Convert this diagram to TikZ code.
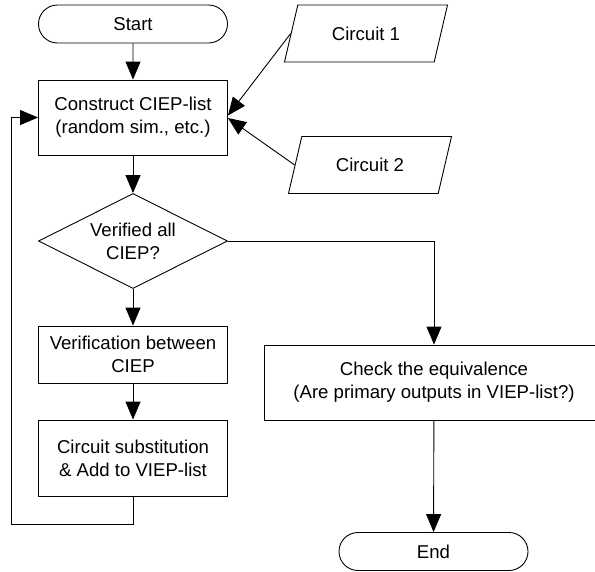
\documentclass[tikz,border=0pt]{standalone}
\usepackage{fontspec}
\setmainfont{Liberation Sans}
\usetikzlibrary{arrows.meta,shapes.geometric,shapes.misc}

\tikzset{
	every node/.style={font=\fontsize{18.6}{23}\selectfont, align=center, inner sep=0pt},
	terminal/.style={draw, rounded rectangle, minimum width=189pt, minimum height=38pt},
	procbox/.style={draw, rectangle, minimum width=189pt},
	decision/.style={draw, diamond, aspect=2, minimum width=189pt, minimum height=95pt},
	iobox/.style={draw, trapezium, trapezium left angle=64, trapezium right angle=116,
		trapezium stretches=true, minimum width=164pt, minimum height=57pt},
	arr/.style={-{Triangle[length=18pt,width=15pt]}},
}

\begin{document}
\begin{tikzpicture}[x=1pt,y=-1pt,line width=0.9pt]
			\useasboundingbox (0,0) rectangle (595,571);
			\clip (0,0) rectangle (595,571);
			\node[terminal] (start) at (133,24) {Start};
			\node[procbox, minimum height=75pt] (construct) at (133,117.5) {Construct CIEP-list\\(random sim., etc.)};
			\node[decision] (verified) at (133,241) {Verified all\\CIEP?};
			\node[procbox, minimum height=57pt] (verif) at (133,354.5) {Verification between\\CIEP};
			\node[procbox, minimum height=76pt] (subst) at (133,458) {Circuit substitution\\\& Add to VIEP-list};
			\node[procbox, minimum width=340pt, minimum height=75pt] (check) at (434,382.5) {Check the equivalence\\(Are primary outputs in VIEP-list?)};
			\node[terminal] (stop) at (433.5,551.5) {End};
			\node[iobox] (c1) at (366,33.5) {Circuit 1};
			\node[iobox] (c2) at (370,165) {Circuit 2};
			\coordinate (loopcorner) at (11,524);
			\draw[arr] (start) -- (construct);
			\draw[arr] (construct) -- (verified);
			\draw[arr] (verified) -- (verif);
			\draw[arr] (verif) -- (subst);
			\draw[arr] (subst.south) |- (loopcorner) |- (construct.west);
			\draw[arr] (verified.east) -| (check.north);
			\draw[arr] (check) -- (stop);
			\draw[arr] (c1.left side) -- ([yshift=2pt]construct.east);
			\draw[arr] (c2.left side) -- ([yshift=-0.5pt]construct.east);
		\end{tikzpicture}
\end{document}
